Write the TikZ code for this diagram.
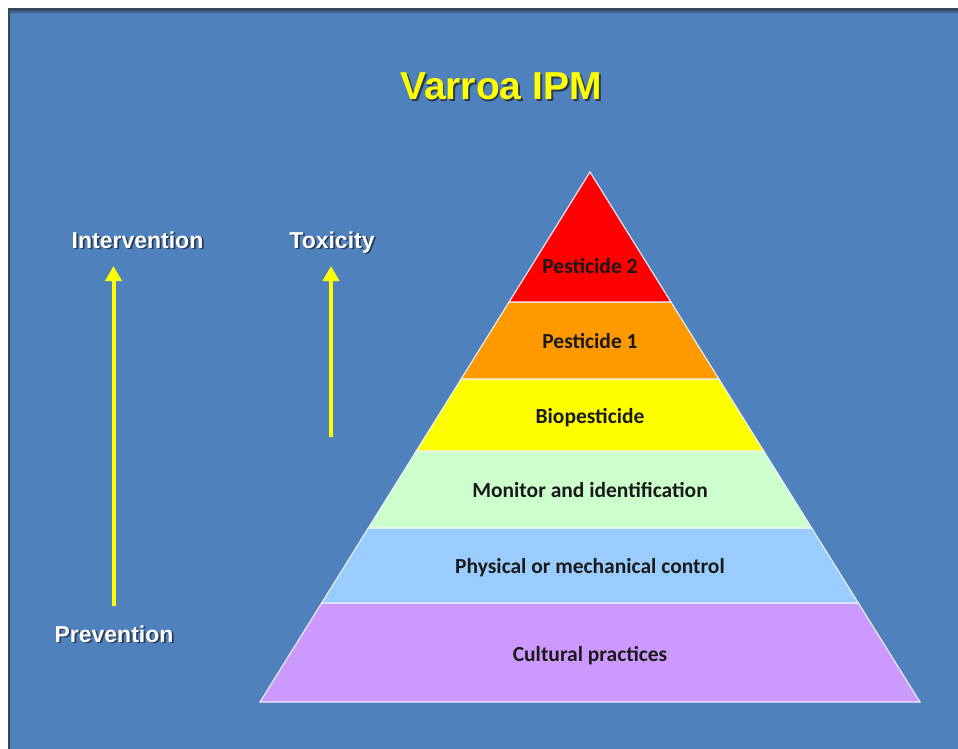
\documentclass[tikz,border=0pt]{standalone}
\usepackage{fontspec}
\setmainfont{Liberation Sans}
\newfontfamily\bandfont{Carlito}
\usetikzlibrary{calc,arrows.meta}
\definecolor{bgblue}{HTML}{4F81BD}
\definecolor{framedark}{HTML}{3A4454}
\definecolor{titleyellow}{HTML}{FFFF00}
\definecolor{arrowyellow}{HTML}{FFFF00}
\definecolor{shadowdark}{HTML}{2A3A55}
\definecolor{bandred}{HTML}{FF0000}
\definecolor{bandorange}{HTML}{FF9900}
\definecolor{bandyellow}{HTML}{FFFF00}
\definecolor{bandgreen}{HTML}{CCFFCC}
\definecolor{bandblue}{HTML}{99CCFF}
\definecolor{bandpurple}{HTML}{CC99FF}
\definecolor{bandtext}{HTML}{1A1A1A}
\newcommand\shadowtext[3]{\rlap{\kern#3\raisebox{-#3}{\textcolor{shadowdark}{#1}}}\textcolor{#2}{#1}}
\begin{document}
\begin{tikzpicture}[x=1pt,y=-1pt,
  bandshape/.style={draw=white!90!bgblue, line width=1.1pt, line join=miter},
  bandlabel/.style={font=\bandfont\bfseries\fontsize{21.5}{24}\selectfont, text=bandtext, anchor=base, inner sep=0pt},
  sidelabel/.style={font=\bfseries\fontsize{23}{26}\selectfont, anchor=base, inner sep=0pt},
  titlelabel/.style={font=\bfseries\fontsize{39}{44}\selectfont, anchor=base, inner sep=0pt},
  yarrow/.style={draw=arrowyellow, line width=4pt, -{Triangle[width=16pt,length=15pt]}}
]
\useasboundingbox (0,0) rectangle (958,749);
\fill[white] (0,0) rectangle (958,749);
\fill[bgblue] (9,9) rectangle (958,749);
\shade[top color=bgblue!55!black, bottom color=bgblue] (9,9) rectangle (958,14);
\draw[framedark, line width=1.6pt] (8.8,749) -- (8.8,8.8) -- (958,8.8);

% title
\node[titlelabel] (title) at (501,100) {\shadowtext{Varroa IPM}{titleyellow}{1.8pt}};

% side labels
\node[sidelabel] (interv) at (137.5,248) {\shadowtext{Intervention}{white}{1.8pt}};
\node[sidelabel] (toxic) at (332,248) {\shadowtext{Toxicity}{white}{1.8pt}};
\node[sidelabel] (prev) at (114,642) {\shadowtext{Prevention}{white}{1.8pt}};

% arrows
\coordinate (ia) at (113.5,606);
\coordinate (ib) at (113.5,266);
\coordinate (ta) at (331,437);
\coordinate (tb) at (331,266);
\draw[yarrow] (ia) -- (ib);
\draw[yarrow] (ta) -- (tb);

% pyramid
\coordinate (apex) at (590,172);
\coordinate (bl) at (260,702);
\coordinate (br) at (920,702);
\coordinate (L1) at ($(apex)!0.24528!(bl)$); \coordinate (R1) at ($(apex)!0.24528!(br)$);
\coordinate (L2) at ($(apex)!0.39057!(bl)$); \coordinate (R2) at ($(apex)!0.39057!(br)$);
\coordinate (L3) at ($(apex)!0.52642!(bl)$); \coordinate (R3) at ($(apex)!0.52642!(br)$);
\coordinate (L4) at ($(apex)!0.67170!(bl)$); \coordinate (R4) at ($(apex)!0.67170!(br)$);
\coordinate (L5) at ($(apex)!0.81321!(bl)$); \coordinate (R5) at ($(apex)!0.81321!(br)$);

\filldraw[bandshape, fill=bandpurple] (L5) -- (R5) -- (br) -- (bl) -- cycle;
\filldraw[bandshape, fill=bandblue] (L4) -- (R4) -- (R5) -- (L5) -- cycle;
\filldraw[bandshape, fill=bandgreen] (L3) -- (R3) -- (R4) -- (L4) -- cycle;
\filldraw[bandshape, fill=bandyellow] (L2) -- (R2) -- (R3) -- (L3) -- cycle;
\filldraw[bandshape, fill=bandorange] (L1) -- (R1) -- (R2) -- (L2) -- cycle;
\filldraw[bandshape, fill=bandred] (apex) -- (R1) -- (L1) -- cycle;

\node[bandlabel] (p2) at (590,273) {Pesticide 2};
\node[bandlabel] (p1) at (590,348) {Pesticide 1};
\node[bandlabel] (bio) at (590,423) {Biopesticide};
\node[bandlabel] (mon) at (590,497) {Monitor and identification};
\node[bandlabel] (phys) at (590,573) {Physical or mechanical control};
\node[bandlabel] (cult) at (590,661) {Cultural practices};
\end{tikzpicture}
\end{document}
